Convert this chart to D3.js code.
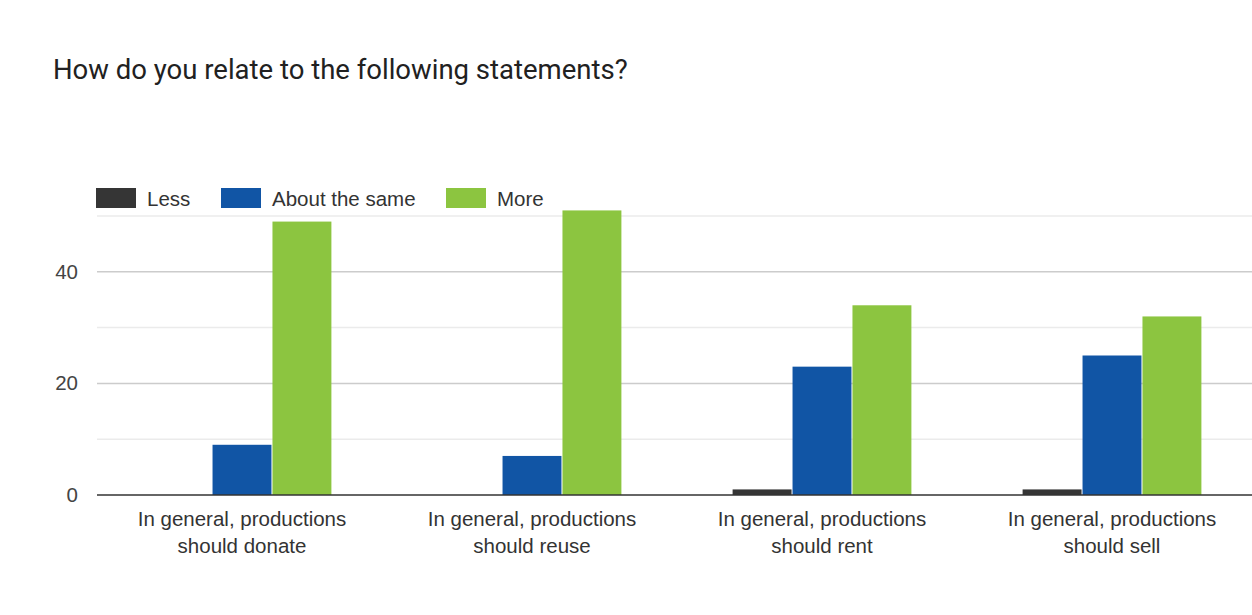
<!DOCTYPE html>
<html>
<head>
<meta charset="utf-8">
<script src="https://cdn.jsdelivr.net/npm/d3@7"></script>
<style>
  body { margin: 0; background: #fff; }
  svg { display: block; }
</style>
</head>
<body>
<div id="plot"></div>
<script>
// chart data
var categories = [
    ["In general, productions", "should donate"],
    ["In general, productions", "should reuse"],
    ["In general, productions", "should rent"],
    ["In general, productions", "should sell"]
];
var seriesNames = ["Less", "About the same", "More"];
var lessValues = [0, 0, 1, 1];
var sameValues = [9, 7, 23, 25];
var moreValues = [49, 51, 34, 32];
var majorTicks = [0, 20, 40];
var minorTicks = [10, 30, 50];

var colors = ["#353535", "#1155a5", "#8cc540"];
var series = [lessValues, sameValues, moreValues];

var W = 1252, H = 615;
var margin = {t: 216, l: 97};
var width = W - margin.l;

var svg = d3.select('#plot').append('svg')
    .attr('width', W)
    .attr('height', H);

// title
svg.append('text')
    .attr('x', 53)
    .attr('y', 79)
    .style('font-family', 'Roboto, sans-serif')
    .style('font-size', '27.5px')
    .style('fill', '#212121')
    .text('How do you relate to the following statements?');

var plot = svg.append('g')
    .attr('transform', 'translate(' + margin.l + ',' + margin.t + ')');

var y = d3.scaleLinear().domain([0, 50]).range([279, 0]);

var x0 = d3.scaleBand()
    .domain(d3.range(categories.length))
    .range([0, 1160])
    .paddingInner(0.38)
    .paddingOuter(0.19);

var x1 = d3.scaleBand()
    .domain(d3.range(seriesNames.length))
    .range([0, x0.bandwidth()]);

var labelFont = 'Arial, "Liberation Sans", sans-serif';

// gridlines
plot.selectAll('.minor')
    .data(minorTicks)
    .enter().append('line')
    .attr('class', 'minor')
    .attr('x1', 0).attr('x2', width)
    .attr('y1', function(d){ return y(d); })
    .attr('y2', function(d){ return y(d); })
    .style('stroke', '#ebebeb')
    .style('stroke-width', 1.5);

plot.selectAll('.major')
    .data(majorTicks.slice(1))
    .enter().append('line')
    .attr('class', 'major')
    .attr('x1', 0).attr('x2', width)
    .attr('y1', function(d){ return y(d); })
    .attr('y2', function(d){ return y(d); })
    .style('stroke', '#cccccc')
    .style('stroke-width', 1.5);

// y axis labels
var yAxis = d3.axisLeft(y).tickValues(majorTicks).tickSize(0).tickPadding(19);
plot.append('g')
    .call(yAxis)
    .call(function(g){ g.select('.domain').remove(); })
    .selectAll('text')
    .style('font-family', labelFont)
    .style('font-size', '20.5px')
    .style('fill', '#444');

// bars
var groups = plot.selectAll('.group')
    .data(categories)
    .enter().append('g')
    .attr('class', 'group')
    .attr('transform', function(d, i){ return 'translate(' + x0(i) + ',0)'; });

groups.selectAll('rect')
    .data(function(d, i){ return series.map(function(s, k){ return {k: k, v: s[i]}; }); })
    .enter().append('rect')
    .filter(function(d){ return d.v > 0; })
    .attr('x', function(d){ return x1(d.k) + 0.5; })
    .attr('width', x1.bandwidth() - 1)
    .attr('y', function(d){ return y(d.v); })
    .attr('height', function(d){ return y(0) - y(d.v); })
    .style('fill', function(d){ return colors[d.k]; });

// baseline
plot.append('line')
    .attr('x1', 0).attr('x2', width)
    .attr('y1', y(0)).attr('y2', y(0))
    .style('stroke', '#333')
    .style('stroke-width', 1.5);

// x labels
var xl = plot.selectAll('.xlabel')
    .data(categories)
    .enter().append('text')
    .attr('class', 'xlabel')
    .attr('text-anchor', 'middle')
    .attr('transform', function(d, i){ return 'translate(' + (x0(i) + x0.bandwidth() / 2) + ',' + (y(0) + 31) + ')'; })
    .style('font-family', labelFont)
    .style('font-size', '20.5px')
    .style('fill', '#333');

xl.selectAll('tspan')
    .data(function(d){ return d; })
    .enter().append('tspan')
    .attr('x', 0)
    .attr('dy', function(d, i){ return i ? 27 : 0; })
    .text(function(d){ return d; });

// legend
var legend = svg.append('g')
    .attr('transform', 'translate(96,188)');
var legX = [0, 125, 350];
var items = legend.selectAll('.leg')
    .data(seriesNames)
    .enter().append('g')
    .attr('transform', function(d, i){ return 'translate(' + legX[i] + ',0)'; });
items.append('rect')
    .attr('width', 40).attr('height', 20)
    .style('fill', function(d, i){ return colors[i]; });
items.append('text')
    .attr('x', 51).attr('y', 18)
    .style('font-family', labelFont)
    .style('font-size', '20.5px')
    .style('fill', '#333')
    .text(function(d){ return d; });
</script>
</body>
</html>
